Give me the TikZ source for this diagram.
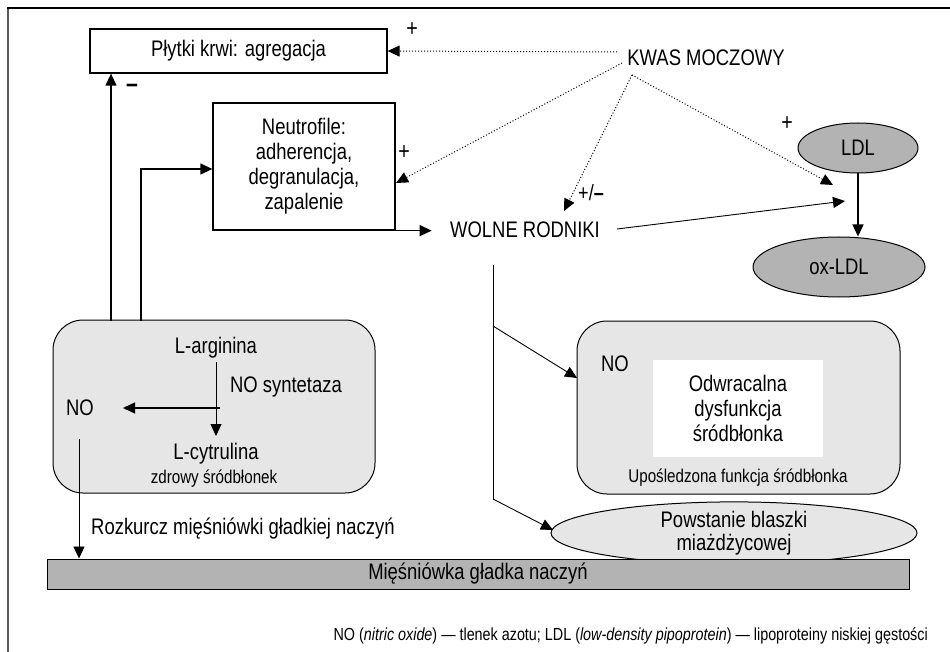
\documentclass[tikz,border=0pt]{standalone}
\usepackage{fontspec}
\setmainfont{Liberation Sans}[FakeStretch=0.82]
\usetikzlibrary{arrows.meta,shapes.geometric}
\definecolor{lgray}{HTML}{E6E6E6}
\definecolor{dgray}{HTML}{B3B3B3}
\tikzset{
  txt/.style={font=\fontsize{22.5}{25}\selectfont, inner sep=0pt},
  stxt/.style={font=\fontsize{18.5}{21}\selectfont, inner sep=0pt},
  box/.style={draw, line width=1.3pt, fill=white, txt, align=center},
  rbox/.style={draw, line width=1pt, fill=lgray, rounded corners=30pt},
  ell/.style={draw, line width=1pt, ellipse, txt, inner sep=0pt},
  arr/.style={line width=1.3pt, -{Triangle[length=12pt,width=11pt]}},
  thin/.style={line width=0.9pt},
  tarr/.style={line width=0.9pt, -{Triangle[length=12pt,width=11pt]}},
  dot/.style={line width=1pt, dotted, -{Triangle[length=12pt,width=11pt]}},
  sign/.style={font=\fontsize{24}{24}\selectfont, inner sep=0pt},
}
\begin{document}
\begin{tikzpicture}[x=1pt,y=-1pt]
\useasboundingbox (0,0) rectangle (950,652);
% frame
\draw[line width=2pt, black!65] (8,652) -- (8,8);
\draw[line width=1.5pt] (7,8) -- (950,8);
% boxes
\node[box, minimum width=297, minimum height=44] (plytki) at (238.5,51) {Płytki krwi: agregacja};
\node[box, minimum width=182, minimum height=127] (neu) at (304,166.5) {Neutrofile:\\adherencja,\\degranulacja,\\zapalenie};
\node[txt] (kwas) at (706,58) {KWAS MOCZOWY};
\node[txt] (wolne) at (525,230) {WOLNE RODNIKI};
\node[ell, fill=dgray, minimum width=120, minimum height=50] (ldl) at (858,148) {LDL};
\node[ell, fill=dgray, minimum width=172, minimum height=60] (oxldl) at (839,267) {ox-LDL};
\node[rbox, minimum width=322, minimum height=173] (zdrowy) at (214,406.5) {};
\node[rbox, minimum width=323, minimum height=173] (upos) at (738.5,407.5) {};
\node[fill=white, minimum width=170, minimum height=97, txt, align=center] (odwr) at (738,408.5) {Odwracalna\\dysfunkcja\\śródbłonka};
\node[ell, fill=lgray, minimum width=366, minimum height=50, align=center, font=\fontsize{22.5}{23}\selectfont] (powst) at (734,533) {Powstanie blaszki\\miażdżycowej};
\node[draw, line width=1pt, fill=dgray, minimum width=862, minimum height=30, txt] (bar) at (478,574) {Mięśniówka gładka naczyń};
% texts in left box
\node[txt] (larg) at (216,348) {L-arginina};
\node[txt] (lcyt) at (216,454) {L-cytrulina};
\node[txt] (nosyn) at (286,387) {NO syntetaza};
\node[txt] (no1) at (80,408) {NO};
\node[stxt] (zdr) at (214,479) {zdrowy śródbłonek};
\node[txt] (no2) at (615,364) {NO};
\node[stxt] (upl) at (738,478) {Upośledzona funkcja śródbłonka};
\node[txt, anchor=west] (rozk) at (91,529) {Rozkurcz mięśniówki gładkiej naczyń};
% signs
\node[sign] (p1) at (412,30) {+};
\node[font=\fontsize{26}{26}\selectfont\bfseries, inner sep=0pt] (m1) at (132,88) {–};
\node[sign] (p2) at (404,153) {+};
\node[font=\fontsize{22}{22}\selectfont, inner sep=0pt] (pm) at (591,193) {+/\textbf{–}};
\node[sign] (p3) at (787,124) {+};
% footnote
\node[font=\fontsize{17.5}{18}\selectfont, inner sep=0pt, anchor=east] (foot) at (928,636) {NO (\textit{nitric oxide}) — tlenek azotu; LDL (\textit{low-density pipoprotein}) — lipoproteiny niskiej gęstości};
% coordinates
\coordinate (k1) at (617,52);
\coordinate (k2) at (622,63);
\coordinate (k3) at (632,75);
\coordinate (tneu) at (396,183);
\coordinate (twol) at (564,211);
\coordinate (tldl) at (833,185);
\coordinate (wend) at (845,201);
\coordinate (wtop) at (493,265);
\coordinate (wbot) at (493,499);
\coordinate (wmid) at (493,326);
\coordinate (tup) at (577,378);
\coordinate (tpow) at (553,530);
% dotted
\draw[dot] (k1) -- (plytki.east);
\draw[dot] (k2) -- (tneu);
\draw[dot] (k3) -- (twol);
\draw[dot] (k3) -- (tldl);
% solid
\draw[arr] (neu.south east) -- ++(36,0);
\draw[tarr] (617,229) -- (wend);
\draw[arr] (ldl.south) -- (ldl.south |- oxldl.north);
\draw[thin] (wtop) -- (wbot);
\draw[tarr] (wmid) -- (tup);
\draw[tarr] (wbot) -- (tpow);
\draw[arr] (111,321) -- (plytki.south -| 111,0);
\draw[arr] (141,321) |- (neu.west |- 0,169);
\draw[tarr] (216,362) -- (216,436);
\draw[arr] (220,408) -- (123,408);
\draw[tarr] (79,439) -- (bar.north -| 79,0);
\end{tikzpicture}
\end{document}
